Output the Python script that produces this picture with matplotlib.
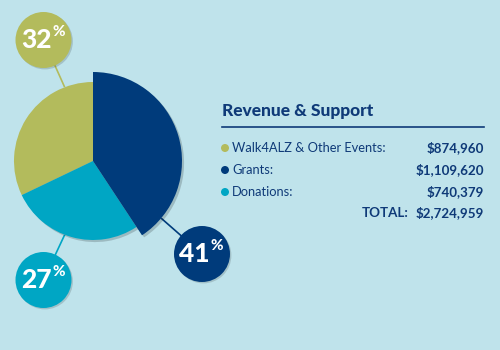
import matplotlib
matplotlib.use("Agg")
import matplotlib.pyplot as plt
import numpy as np
from matplotlib.patches import Circle
import matplotlib.patheffects as pe

# ---- data ----
categories = ["Walk4ALZ & Other Events", "Grants", "Donations"]
amounts = [874960, 1109620, 740379]
amount_labels = ["$874,960", "$1,109,620", "$740,379"]
total_label = "$2,724,959"
title = "Revenue & Support"

# ---- style ----
BG = "#bfe3eb"
colors = ["#b3bb5c", "#003b7b", "#00a6c4"]
TXT = "#0f3a78"
W, H = 500, 350

fig = plt.figure(figsize=(W / 100, H / 100), dpi=100, facecolor=BG)
ax = fig.add_axes([0, 0, 1, 1])
ax.set_facecolor(BG)

def py(y):  # pixel y (top-down) -> data y
    return H - y

total = sum(amounts)
fracs = [a / total for a in amounts]
cx, cy = 93, py(161)
r_small, r_big = 79, 89
start = 90 + fracs[0] * 360

wedges, _ = ax.pie(amounts, colors=colors, startangle=start, counterclock=False,
                   center=(cx, cy), radius=r_small, frame=True,
                   wedgeprops=dict(linewidth=0))
wedges[1].set_radius(r_big)
for w in wedges:
    w.set_path_effects([pe.SimplePatchShadow(offset=(1.5, -1.5), shadow_rgbFace="#000000", alpha=0.18),
                        pe.Normal()])
wedges[1].set_zorder(3)
wedges[0].set_zorder(2)
wedges[2].set_zorder(2)

ax.set_xlim(0, W)
ax.set_ylim(0, H)
ax.set_aspect("equal")
ax.axis("off")

# ---- callouts ----
callouts = [
    (0, (43.5, 40), 111, r_small),
    (2, (43.5, 280), -111, r_small),
    (1, (202, 254), -40, r_big),
]
FONT = "Lato"
for idx, (ccx, ccy), ang, rr in callouts:
    col = colors[idx]
    px0 = cx + rr * np.cos(np.radians(ang))
    py0 = cy + rr * np.sin(np.radians(ang))
    ax.plot([px0, ccx], [py0, py(ccy)], color=col, lw=1.2, zorder=1.5, solid_capstyle="butt")
    circ = Circle((ccx, py(ccy)), 28, facecolor=col, edgecolor="none", zorder=4)
    circ.set_path_effects([pe.SimplePatchShadow(offset=(1, -1), shadow_rgbFace="#000000", alpha=0.15),
                           pe.Normal()])
    ax.add_patch(circ)
    pct = f"{round(fracs[idx] * 100):d}"
    ax.text(ccx - 7.5, py(ccy), pct, ha="center", va="center", color="white",
            fontsize=19, fontweight=900, family=FONT, zorder=5)
    ax.text(ccx + 15, py(ccy - 8), "%", ha="center", va="center", color="white",
            fontsize=11, fontweight=900, family=FONT, zorder=5)

# ---- legend panel ----
ax.text(222, py(111), title, ha="left", va="center", color=TXT, fontsize=12.5,
        fontweight=900, family=FONT)
ax.plot([222, 484], [py(127), py(127)], color=TXT, lw=1.2)
row_y = [148, 170, 192]
FS = 9.3
for i, (lab, val) in enumerate(zip(categories, amount_labels)):
    ax.add_patch(Circle((225, py(row_y[i])), 4, facecolor=colors[i], edgecolor="none"))
    ax.text(232, py(row_y[i]), lab + ":", ha="left", va="center", color=TXT,
            fontsize=FS, family=FONT)
    ax.text(484, py(row_y[i]), val, ha="right", va="center", color=TXT,
            fontsize=FS + 0.3, fontweight="bold", family=FONT)
ax.text(409, py(213), "TOTAL:", ha="right", va="center", color=TXT,
        fontsize=FS + 0.3, fontweight="bold", family=FONT)
ax.text(484, py(213), total_label, ha="right", va="center", color=TXT,
        fontsize=FS + 0.3, fontweight="bold", family=FONT)

fig.savefig("out.png", dpi=100, facecolor=BG)
